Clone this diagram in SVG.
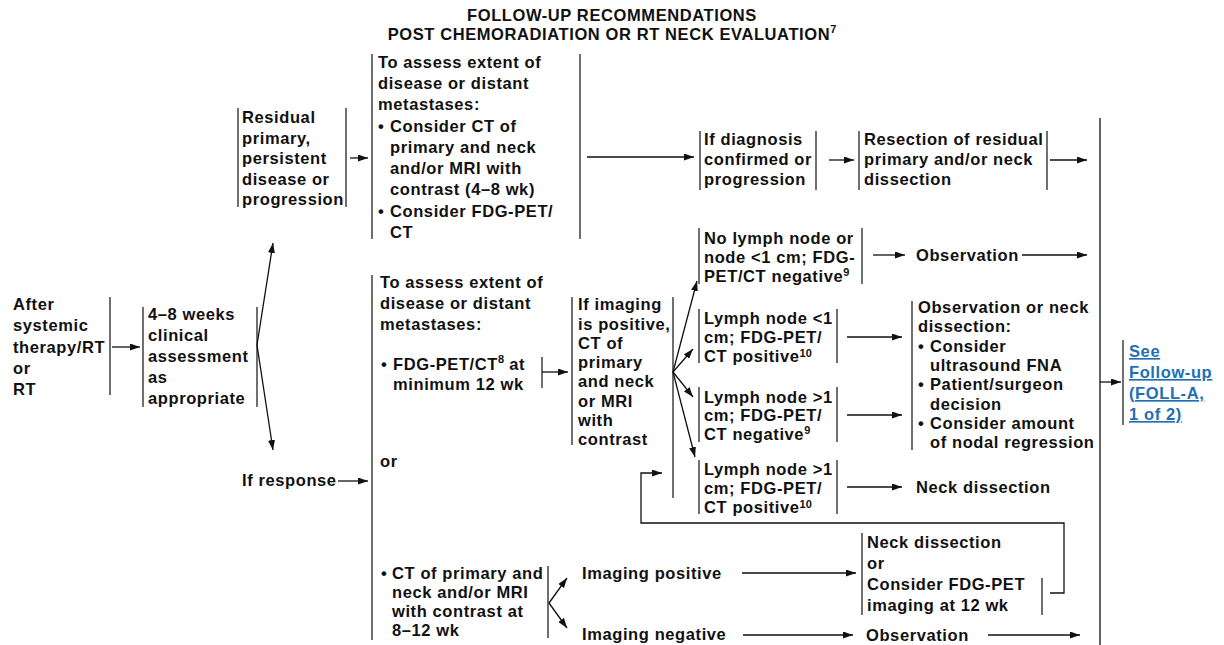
<svg xmlns="http://www.w3.org/2000/svg" width="1224" height="645" viewBox="0 0 1224 645">
<style>
.t{font-family:"Liberation Sans",Arial,Helvetica,sans-serif;font-weight:700;font-size:16.5px;letter-spacing:0.6px;fill:#111}
.ti{font-family:"Liberation Sans",Arial,Helvetica,sans-serif;font-weight:700;font-size:16.5px;letter-spacing:0.6px;fill:#111;text-anchor:middle}
.lk{fill:#1f6fb5;text-decoration:underline}
.sup{font-size:11px;letter-spacing:0}
.br{stroke:#222;stroke-width:1.3;fill:none}
.c{stroke:#111;stroke-width:1.3;fill:none;marker-end:url(#ah)}
.ln{stroke:#111;stroke-width:1.3;fill:none}
</style>
<defs>
<marker id="ah" markerUnits="userSpaceOnUse" markerWidth="10" markerHeight="7" refX="10" refY="3.5" orient="auto">
<path d="M0,0 L10,3.5 L0,7 z" fill="#111"/>
</marker>
</defs>
<rect width="1224" height="645" fill="#fff"/>

<g id="title">
<text class="ti" x="612" y="21">FOLLOW-UP RECOMMENDATIONS</text>
<text class="ti" x="612" y="40">POST CHEMORADIATION OR RT NECK EVALUATION<tspan class="sup" dy="-7">7</tspan></text>
</g>

<g id="after">
<text class="t" x="13" y="310">After</text>
<text class="t" x="13" y="331">systemic</text>
<text class="t" x="13" y="353">therapy/RT</text>
<text class="t" x="13" y="374">or</text>
<text class="t" x="13" y="395">RT</text>
<line class="br" x1="110" y1="297" x2="110" y2="395"/>
</g>

<g id="clinical">
<line class="br" x1="143" y1="307" x2="143" y2="407"/>
<text class="t" x="148" y="320">4–8 weeks</text>
<text class="t" x="148" y="341">clinical</text>
<text class="t" x="148" y="362">assessment</text>
<text class="t" x="148" y="383">as</text>
<text class="t" x="148" y="404">appropriate</text>
<line class="br" x1="257" y1="307" x2="257" y2="407"/>
</g>

<g id="residual">
<line class="br" x1="238" y1="108" x2="238" y2="207"/>
<text class="t" x="242" y="123">Residual</text>
<text class="t" x="242" y="144">primary,</text>
<text class="t" x="242" y="164">persistent</text>
<text class="t" x="242" y="185">disease or</text>
<text class="t" x="242" y="205">progression</text>
<line class="br" x1="346" y1="108" x2="346" y2="207"/>
</g>

<g id="response">
<text class="t" x="242" y="486">If response</text>
</g>

<g id="assess-top">
<line class="br" x1="372" y1="54" x2="372" y2="239"/>
<text class="t" x="378" y="68">To assess extent of</text>
<text class="t" x="378" y="89">disease or distant</text>
<text class="t" x="378" y="110">metastases:</text>
<text class="t" x="378" y="132">•</text>
<text class="t" x="390" y="132">Consider CT of</text>
<text class="t" x="390" y="153">primary and neck</text>
<text class="t" x="390" y="174">and/or MRI with</text>
<text class="t" x="390" y="195">contrast (4–8 wk)</text>
<text class="t" x="378" y="217">•</text>
<text class="t" x="390" y="217">Consider FDG-PET/</text>
<text class="t" x="390" y="238">CT</text>
<line class="br" x1="580" y1="54" x2="580" y2="239"/>
</g>

<g id="assess-response">
<line class="br" x1="372" y1="275" x2="372" y2="640"/>
<text class="t" x="380" y="288">To assess extent of</text>
<text class="t" x="380" y="309">disease or distant</text>
<text class="t" x="380" y="330">metastases:</text>
<text class="t" x="381" y="370">•</text>
<text class="t" x="393" y="370">FDG-PET/CT<tspan class="sup" dy="-7">8</tspan><tspan dy="7"> at</tspan></text>
<text class="t" x="393" y="390">minimum 12 wk</text>
<line class="br" x1="542" y1="357" x2="542" y2="388"/>
<text class="t" x="380" y="467">or</text>
<text class="t" x="381" y="579">•</text>
<text class="t" x="392" y="579">CT of primary and</text>
<text class="t" x="392" y="598">neck and/or MRI</text>
<text class="t" x="392" y="617">with contrast at</text>
<text class="t" x="392" y="636">8–12 wk</text>
<line class="br" x1="548" y1="566" x2="548" y2="638"/>
</g>

<g id="if-imaging">
<line class="br" x1="572" y1="297" x2="572" y2="445"/>
<text class="t" x="578" y="310">If imaging</text>
<text class="t" x="578" y="330">is positive,</text>
<text class="t" x="578" y="349">CT of</text>
<text class="t" x="578" y="368">primary</text>
<text class="t" x="578" y="387">and neck</text>
<text class="t" x="578" y="407">or MRI</text>
<text class="t" x="578" y="426">with</text>
<text class="t" x="578" y="445">contrast</text>
<line class="br" x1="673" y1="297" x2="673" y2="498"/>
</g>

<g id="if-diagnosis">
<line class="br" x1="700" y1="131" x2="700" y2="190"/>
<text class="t" x="704" y="145">If diagnosis</text>
<text class="t" x="704" y="165">confirmed or</text>
<text class="t" x="704" y="185">progression</text>
<line class="br" x1="816" y1="131" x2="816" y2="190"/>
</g>

<g id="resection">
<line class="br" x1="859" y1="131" x2="859" y2="190"/>
<text class="t" x="864" y="145">Resection of residual</text>
<text class="t" x="864" y="165">primary and/or neck</text>
<text class="t" x="864" y="185">dissection</text>
<line class="br" x1="1047" y1="131" x2="1047" y2="190"/>
</g>

<g id="no-lymph">
<line class="br" x1="699" y1="228" x2="699" y2="284"/>
<text class="t" x="704" y="244">No lymph node or</text>
<text class="t" x="704" y="263">node &lt;1 cm; FDG-</text>
<text class="t" x="704" y="282">PET/CT negative<tspan class="sup" dy="-6">9</tspan></text>
<line class="br" x1="862" y1="228" x2="862" y2="284"/>
</g>

<g id="observation-top">
<text class="t" x="916" y="261">Observation</text>
</g>

<g id="lymph-lt1-pos">
<line class="br" x1="699" y1="309" x2="699" y2="363"/>
<text class="t" x="704" y="324">Lymph node &lt;1</text>
<text class="t" x="704" y="343">cm; FDG-PET/</text>
<text class="t" x="704" y="362">CT positive<tspan class="sup" dy="-5">10</tspan></text>
<line class="br" x1="837" y1="309" x2="837" y2="363"/>
</g>

<g id="lymph-gt1-neg">
<line class="br" x1="699" y1="387" x2="699" y2="442"/>
<text class="t" x="704" y="403">Lymph node &gt;1</text>
<text class="t" x="704" y="421">cm; FDG-PET/</text>
<text class="t" x="704" y="440">CT negative<tspan class="sup" dy="-6">9</tspan></text>
<line class="br" x1="837" y1="387" x2="837" y2="442"/>
</g>

<g id="lymph-gt1-pos">
<line class="br" x1="699" y1="460" x2="699" y2="514"/>
<text class="t" x="704" y="475">Lymph node &gt;1</text>
<text class="t" x="704" y="494">cm; FDG-PET/</text>
<text class="t" x="704" y="513">CT positive<tspan class="sup" dy="-5">10</tspan></text>
<line class="br" x1="837" y1="460" x2="837" y2="514"/>
</g>

<g id="obs-or-neck">
<line class="br" x1="912" y1="301" x2="912" y2="450"/>
<text class="t" x="918" y="313">Observation or neck</text>
<text class="t" x="918" y="332">dissection:</text>
<text class="t" x="918" y="352">•</text>
<text class="t" x="930" y="352">Consider</text>
<text class="t" x="930" y="371">ultrasound FNA</text>
<text class="t" x="918" y="390">•</text>
<text class="t" x="930" y="390">Patient/surgeon</text>
<text class="t" x="930" y="410">decision</text>
<text class="t" x="918" y="429">•</text>
<text class="t" x="930" y="429">Consider amount</text>
<text class="t" x="930" y="448">of nodal regression</text>
</g>

<g id="neck-dissection-mid">
<text class="t" x="916" y="493">Neck dissection</text>
</g>

<g id="imaging-positive">
<text class="t" x="582" y="579">Imaging positive</text>
</g>

<g id="imaging-negative">
<text class="t" x="582" y="640">Imaging negative</text>
</g>

<g id="neck-or-pet">
<line class="br" x1="862" y1="533" x2="862" y2="615"/>
<text class="t" x="867" y="548">Neck dissection</text>
<text class="t" x="867" y="569">or</text>
<text class="t" x="867" y="590">Consider FDG-PET</text>
<text class="t" x="867" y="611">imaging at 12 wk</text>
<line class="br" x1="1042" y1="578" x2="1042" y2="615"/>
</g>

<g id="observation-bottom">
<text class="t" x="866" y="641">Observation</text>
</g>

<g id="follow-up">
<line class="br" x1="1123" y1="340" x2="1123" y2="425"/>
<text class="t lk" x="1129" y="357">See </text>
<text class="t lk" x="1129" y="378">Follow-up </text>
<text class="t lk" x="1129" y="399">(FOLL-A, </text>
<text class="t lk" x="1129" y="420">1 of 2)</text>
</g>

<g id="connectors">
<path class="c" d="M112,347 H140"/>
<path class="c" d="M257,345 L273,243"/>
<path class="c" d="M257,345 L273,450"/>
<path class="c" d="M350,158 H368"/>
<path class="c" d="M587,157 H694"/>
<path class="c" d="M829,160 H854"/>
<path class="c" d="M1050,160 H1087"/>
<path class="c" d="M873,255 H905"/>
<path class="c" d="M1022,255 H1087"/>
<path class="c" d="M338,481 H368"/>
<path class="c" d="M542,372 H568"/>
<path class="c" d="M673,372 L697,281"/>
<path class="c" d="M673,372 L693,349"/>
<path class="c" d="M673,372 L693,397"/>
<path class="c" d="M673,372 L695,457"/>
<path class="c" d="M847,337 H902"/>
<path class="c" d="M847,415 H902"/>
<path class="c" d="M847,487 H902"/>
<path class="ln" d="M1100,118 V645"/>
<path class="c" d="M1100,382 H1121"/>
<path class="c" d="M1050,593 H1064 V523 H641 V473 H662"/>
<path class="c" d="M549,603 L567,578"/>
<path class="c" d="M549,603 L567,628"/>
<path class="c" d="M742,573 H856"/>
<path class="c" d="M743,635 H853"/>
<path class="c" d="M988,635 H1080"/>
</g>
</svg>
